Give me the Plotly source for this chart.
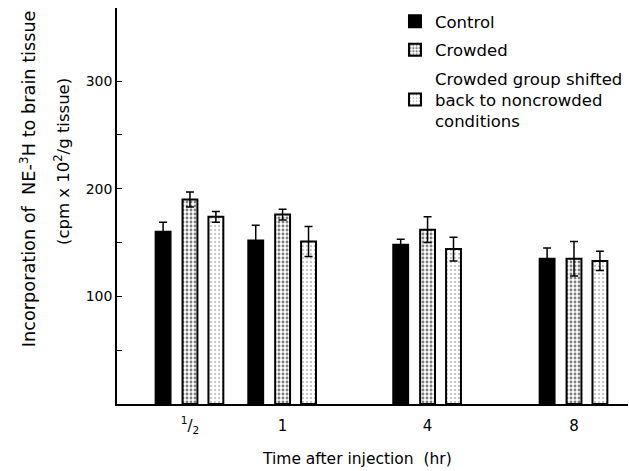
import plotly.graph_objects as go

# ---- data ----
categories = ["<sup>1</sup>/<sub>2</sub>", "1", "4", "8"]
control = [160, 152, 148, 135]
control_err = [9, 14, 5, 10]
crowded = [190, 176, 162, 135]
crowded_err = [7, 5, 12, 16]
shifted = [174, 151, 144, 133]
shifted_err = [5, 14, 11, 9]
series_names = ["Control", "Crowded",
                "Crowded group shifted<br>back to noncrowded<br>conditions"]

# ---- layout constants ----
GROUP_POS = [0.0, 1.93, 4.95, 8.0]     # horizontal placement of the time groups
OFFSETS = [-0.56, 0.0, 0.54]
BAR_W = 0.31
FONT = "DejaVu Sans"

fig = go.Figure()

styles = [
    dict(color="black"),
    dict(color="white", pattern=dict(shape=".", fgcolor="black", bgcolor="white",
                                     size=4, solidity=0.4)),
    dict(color="white", pattern=dict(shape=".", fgcolor="#666666", bgcolor="white",
                                     size=4, solidity=0.18)),
]
values = [control, crowded, shifted]
errors = [control_err, crowded_err, shifted_err]

for i, (name, vals, errs, off, st) in enumerate(zip(series_names, values, errors, OFFSETS, styles)):
    fig.add_trace(go.Bar(
        name=name,
        legendgroup=f"g{i}",
        x=[g + off for g in GROUP_POS],
        y=vals,
        width=BAR_W,
        marker=dict(**st, line=dict(color="black", width=2)),
        error_y=dict(type="data", array=errs, color="black", thickness=1.5, width=4),
    ))

fig.update_layout(
    width=629, height=471,
    margin=dict(l=117, r=1, t=8, b=67),
    paper_bgcolor="white", plot_bgcolor="white",
    barmode="overlay",
    font=dict(family=FONT, size=14, color="black"),
    showlegend=True,
    legend=dict(x=0.544, y=1.01, xanchor="left", yanchor="top",
                font=dict(size=16.5), bgcolor="rgba(0,0,0,0)",
                tracegroupgap=4, itemwidth=30, traceorder="grouped"),
    xaxis=dict(range=[-1.52, 9.125], showline=True, linecolor="black", linewidth=1.5,
               tickvals=GROUP_POS, ticktext=categories, ticks="", showgrid=False,
               zeroline=False, tickfont=dict(size=15), ticklabelstandoff=7),
    yaxis=dict(range=[0, 368], showline=True, linecolor="black", linewidth=1.5,
               tickvals=[50, 100, 150, 200, 250, 300],
               ticktext=["", "100", "", "200", "", "300"],
               ticks="inside", ticklen=5, tickwidth=1.2, tickcolor="black",
               showgrid=False, zeroline=False, tickfont=dict(size=14)),
)

fig.add_annotation(text="Time after injection  (hr)",
                   xref="paper", yref="paper", x=0.4706, y=-0.138,
                   xanchor="center", yanchor="middle",
                   showarrow=False, font=dict(size=15.5))
fig.add_annotation(text="Incorporation of  NE-<sup>3</sup>H to brain tissue",
                   xref="paper", yref="paper", x=-0.176, y=0.568,
                   xanchor="center", yanchor="middle", textangle=-90,
                   showarrow=False, font=dict(size=17.7))
fig.add_annotation(text="(cpm x 10<sup>2</sup>/g tissue)",
                   xref="paper", yref="paper", x=-0.1076, y=0.611,
                   xanchor="center", yanchor="middle", textangle=-90,
                   showarrow=False, font=dict(size=16.5))

fig.write_html("out.html")
